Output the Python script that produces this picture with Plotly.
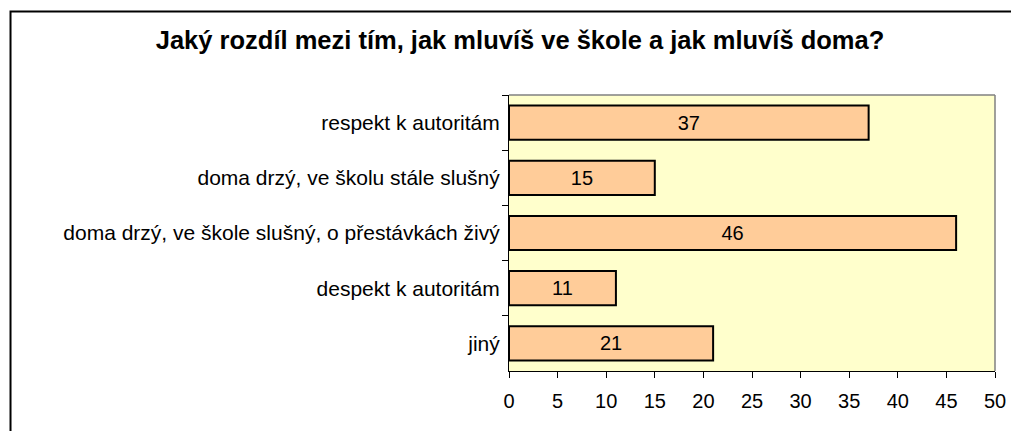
import plotly.graph_objects as go

categories = [
    "respekt k autoritám",
    "doma drzý, ve školu stále slušný",
    "doma drzý, ve škole slušný, o přestávkách živý",
    "despekt k autoritám",
    "jiný",
]
values = [37, 15, 46, 11, 21]
x_ticks = [0, 5, 10, 15, 20, 25, 30, 35, 40, 45, 50]
title_text = "Jaký rozdíl mezi tím, jak mluvíš ve škole a jak mluvíš doma?"

# page body has an 8px margin; design in figure coordinates
OFF = 8
W, H = 1019 - OFF, 439 - 2 * OFF
L = 508.5 - OFF
R = W - (995 - OFF)
T = 95 - OFF
B = H - (371 - OFF)
pw = W - L - R
ph = H - T - B

def px_x(x):
    return (x - OFF - L) / pw

def px_y(y):
    return (H - B - (y - OFF)) / ph

font_family = "Liberation Sans, Arial, sans-serif"

fig = go.Figure(
    go.Bar(
        x=values,
        y=categories,
        orientation="h",
        marker=dict(color="#FFCC99", line=dict(color="black", width=2)),
        width=0.62,
        text=[str(v) for v in values],
        textposition="inside",
        insidetextanchor="middle",
        textfont=dict(color="black", size=20, family=font_family),
        hoverinfo="skip",
    )
)

fig.update_layout(
    width=W,
    height=H,
    margin=dict(l=L, r=R, t=T, b=B, pad=0),
    paper_bgcolor="white",
    plot_bgcolor="#FFFFCC",
    showlegend=False,
    font=dict(family=font_family, color="black", size=20),
    title=dict(
        text="<b>" + title_text + "</b>",
        x=(520 - OFF) / W,
        xanchor="center",
        y=1 - (40 - OFF) / H,
        yanchor="middle",
        font=dict(size=25.5, family=font_family, color="black"),
    ),
    xaxis=dict(
        range=[0, 50],
        tickvals=x_ticks,
        ticktext=[str(t) for t in x_ticks],
        ticks="outside",
        ticklen=6,
        tickcolor="black",
        tickwidth=1,
        showline=True,
        linecolor="black",
        linewidth=1,
        showgrid=False,
        zeroline=False,
        tickfont=dict(size=20),
        ticklabelstandoff=6,
        fixedrange=True,
    ),
    yaxis=dict(
        autorange="reversed",
        ticks="outside",
        tickson="boundaries",
        ticklen=6,
        tickcolor="black",
        tickwidth=1,
        showline=True,
        linecolor="black",
        linewidth=1,
        showgrid=False,
        zeroline=False,
        tickfont=dict(size=21),
        ticklabelstandoff=4,
        fixedrange=True,
    ),
    shapes=[
        # outer chart border
        dict(type="rect", xref="paper", yref="paper",
             x0=px_x(9.5), x1=px_x(1060), y0=px_y(480), y1=px_y(11.5),
             line=dict(color="black", width=2), fillcolor="rgba(0,0,0,0)", layer="above"),
        # plot area top and right border (gray)
        dict(type="line", xref="paper", yref="paper", x0=0, x1=1, y0=1, y1=1,
             line=dict(color="#808080", width=1.5)),
        dict(type="line", xref="paper", yref="paper", x0=1, x1=1, y0=0, y1=1,
             line=dict(color="#808080", width=1.5)),
    ],
)

fig.write_html("out.html")
